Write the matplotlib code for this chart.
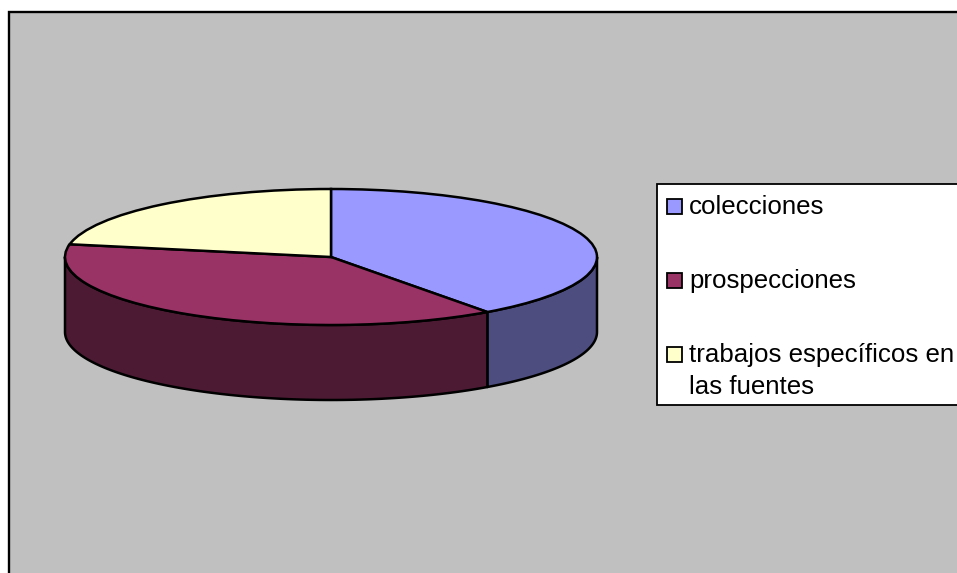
import numpy as np
import matplotlib
matplotlib.use("Agg")
import matplotlib.pyplot as plt
from matplotlib.patches import Polygon, Rectangle

# Data
categories = ["colecciones", "prospecciones", "trabajos específicos en\nlas fuentes"]
values = [40, 38, 22]
top_colors = ["#9999FF", "#993366", "#FFFFCC"]
side_colors = ["#4D4D80", "#4D1A33", "#808066"]

W, H = 957, 573
fig = plt.figure(figsize=(W / 100, H / 100), dpi=100, facecolor="white")

# Full-figure pixel axes for the chart area and legend
bg = fig.add_axes([0, 0, 1, 1])
bg.set_xlim(0, W)
bg.set_ylim(H, 0)
bg.axis("off")
bg.add_patch(Rectangle((8.7, 12.2), W + 20, H + 20, fc="#C0C0C0", ec="black", lw=1.7))

# Pie axes: unit circle squashed onto the tilted disc
cx, cy, rx, ry, depth = 331, 257, 266, 68, 75
pie_ax = fig.add_axes([(cx - rx) / W, 1 - (cy + ry) / H, 2 * rx / W, 2 * ry / H])
pie_ax.patch.set_alpha(0)

fr = np.array(values, dtype=float) / sum(values)
edges = np.concatenate([[0], np.cumsum(fr)]) * 360  # clockwise from 12 o'clock
d = depth / ry

# Side walls (only the front half of the rim, clockwise 90..270 from the top)
for i, col in enumerate(side_colors):
    a0, a1 = max(edges[i], 90), min(edges[i + 1], 270)
    if a1 <= a0:
        continue
    t = np.radians(np.linspace(a0, a1, 120))
    x, y = np.sin(t), np.cos(t)
    pts = np.r_[np.c_[x, y], np.c_[x[::-1], y[::-1] - d]]
    pie_ax.add_patch(Polygon(pts, closed=True, fc=col, ec="black", lw=1.8,
                             joinstyle="round", clip_on=False, zorder=1))

# Top face
wedges, _ = pie_ax.pie(values, colors=top_colors, startangle=90, counterclock=False,
                       radius=1, wedgeprops=dict(ec="black", lw=1.8, clip_on=False, zorder=2))
pie_ax.set_aspect("auto")
pie_ax.set_xlim(-1, 1)
pie_ax.set_ylim(-1, 1)
pie_ax.axis("off")

# Legend
lg = fig.add_axes([0, 0, 1, 1], zorder=5)
lg.set_xlim(0, W)
lg.set_ylim(H, 0)
lg.axis("off")
lg.add_patch(Rectangle((656.5, 183.5), W, 221.5, fc="white", ec="black", lw=1.3))
baselines = [214, 288, 362]
fs = 18.6
for name, col, yb in zip(categories, top_colors, baselines):
    lg.add_patch(Rectangle((666.5, yb - 15), 15, 15, fc=col, ec="black", lw=1.3))
    for k, line in enumerate(name.split("\n")):
        lg.text(689, yb + 32 * k, line, family="Liberation Sans", fontsize=fs,
                color="black", va="baseline", ha="left")

fig.savefig("out.png", dpi=100, facecolor="white")
